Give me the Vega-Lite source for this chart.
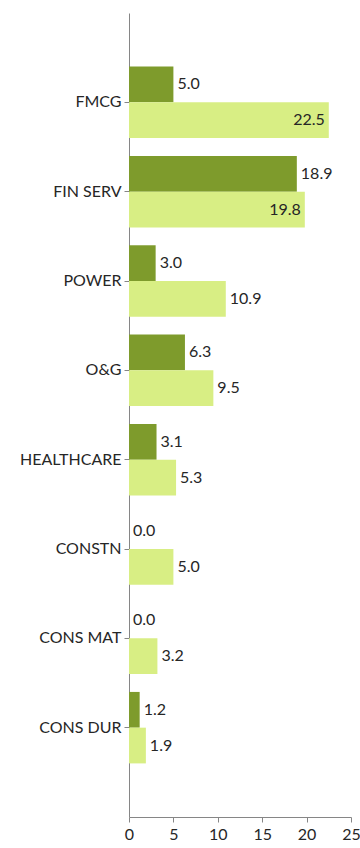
{
  "$schema": "https://vega.github.io/schema/vega-lite/v6.json",
  "width": 222,
  "height": 804,
  "autosize": "none",
  "padding": {"left": 129, "top": 13, "right": 9, "bottom": 31},
  "background": "white",
  "config": {"view": {"stroke": null}, "font": "Lato"},
  "data": {
    "values": [
      {"sector": "FMCG", "series": "Series 1", "value": 5.0},
      {"sector": "FMCG", "series": "Series 2", "value": 22.5},
      {"sector": "FIN SERV", "series": "Series 1", "value": 18.9},
      {"sector": "FIN SERV", "series": "Series 2", "value": 19.8},
      {"sector": "POWER", "series": "Series 1", "value": 3.0},
      {"sector": "POWER", "series": "Series 2", "value": 10.9},
      {"sector": "O&G", "series": "Series 1", "value": 6.3},
      {"sector": "O&G", "series": "Series 2", "value": 9.5},
      {"sector": "HEALTHCARE", "series": "Series 1", "value": 3.1},
      {"sector": "HEALTHCARE", "series": "Series 2", "value": 5.3},
      {"sector": "CONSTN", "series": "Series 1", "value": 0.0},
      {"sector": "CONSTN", "series": "Series 2", "value": 5.0},
      {"sector": "CONS MAT", "series": "Series 1", "value": 0.0},
      {"sector": "CONS MAT", "series": "Series 2", "value": 3.2},
      {"sector": "CONS DUR", "series": "Series 1", "value": 1.2},
      {"sector": "CONS DUR", "series": "Series 2", "value": 1.9}
    ]
  },
  "encoding": {
    "y": {
      "field": "sector",
      "type": "nominal",
      "sort": ["FMCG", "FIN SERV", "POWER", "O&G", "HEALTHCARE", "CONSTN", "CONS MAT", "CONS DUR"],
      "scale": {"paddingInner": 0.2, "paddingOuter": 0.6},
      "axis": {
        "title": null,
        "domainColor": "#868686",
        "tickColor": "#868686",
        "tickSize": 5,
        "labelPadding": 3,
        "labelFontSize": 16,
        "labelColor": "#262626",
        "labelFont": "Lato"
      }
    },
    "yOffset": {"field": "series", "sort": ["Series 1", "Series 2"]},
    "x": {
      "field": "value",
      "type": "quantitative",
      "scale": {"domain": [0, 25], "nice": false},
      "axis": {
        "title": null,
        "grid": false,
        "values": [0, 5, 10, 15, 20, 25],
        "domainColor": "#868686",
        "tickColor": "#868686",
        "tickSize": 5,
        "labelPadding": 4,
        "labelFontSize": 16,
        "labelColor": "#262626",
        "labelFont": "Lato",
        "labelFlush": false
      }
    }
  },
  "layer": [
    {
      "mark": {"type": "bar"},
      "encoding": {
        "color": {
          "field": "series",
          "type": "nominal",
          "scale": {"domain": ["Series 1", "Series 2"], "range": ["#7e9b2c", "#d8ee84"]},
          "legend": null
        }
      }
    },
    {
      "transform": [{"filter": "datum.series == 'Series 1' || datum.value <= 19"}],
      "mark": {"type": "text", "align": "left", "baseline": "middle", "dx": 4, "fontSize": 16, "color": "#262626", "font": "Lato"},
      "encoding": {"text": {"field": "value", "type": "quantitative", "format": ".1f"}}
    },
    {
      "transform": [{"filter": "datum.series == 'Series 2' && datum.value > 19"}],
      "mark": {"type": "text", "align": "right", "baseline": "middle", "dx": -4, "fontSize": 16, "color": "#262626", "font": "Lato"},
      "encoding": {"text": {"field": "value", "type": "quantitative", "format": ".1f"}}
    }
  ]
}
